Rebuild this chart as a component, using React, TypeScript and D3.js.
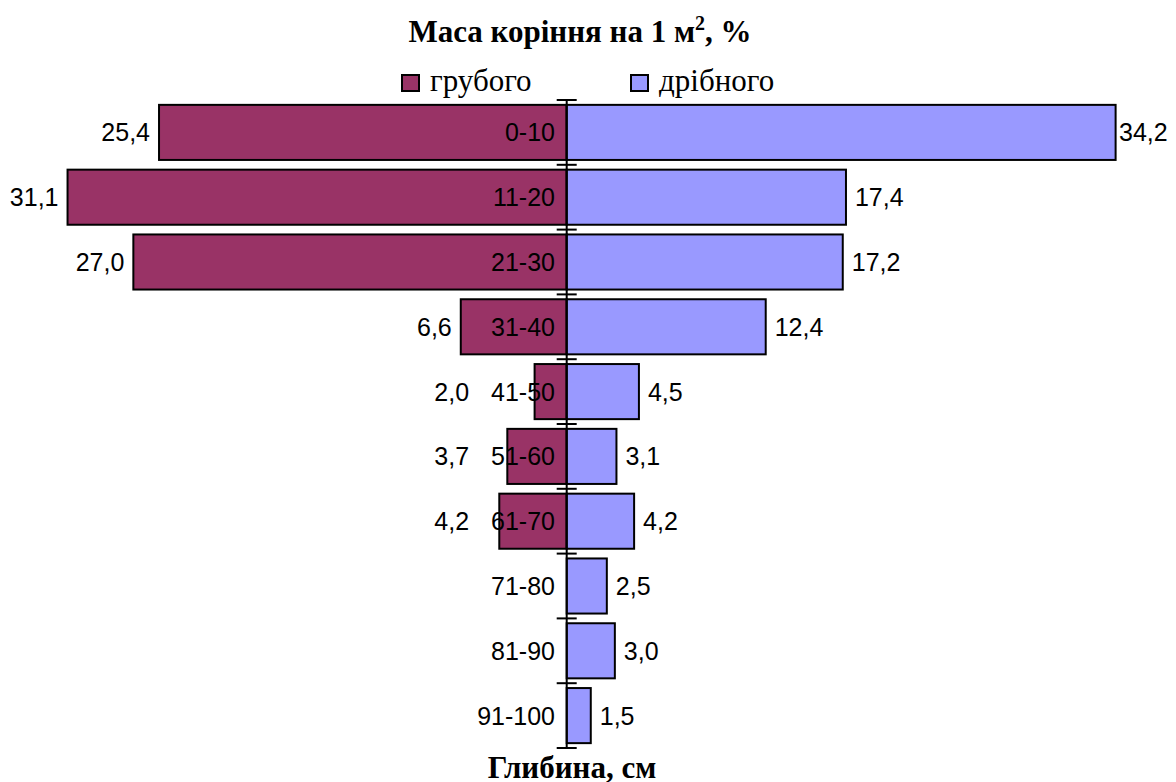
import React from "react";
import * as d3 from "d3";

// Root mass per 1 m² by depth layer, %
const depths = ["0-10", "11-20", "21-30", "31-40", "41-50", "51-60", "61-70", "71-80", "81-90", "91-100"];
const coarse = [25.4, 31.1, 27.0, 6.6, 2.0, 3.7, 4.2, 0, 0, 0];
const fine = [34.2, 17.4, 17.2, 12.4, 4.5, 3.1, 4.2, 2.5, 3.0, 1.5];
const seriesNames = ["грубого", "дрібного"];
const seriesColors = ["#993366", "#9999FF"];

const W = 1176;
const H = 782;
const X0 = 566.7;
const PX_PER_UNIT = 16.05;
const LABEL_FONT = 25;
const CAT_RIGHT = 555;

const fmt = (v: number) => v.toFixed(1).replace(".", ",");

// approximate Arial advance width of a short numeric label
const textWidth = (s: string) =>
  s.split("").reduce((w, ch) => w + (ch === "-" ? 0.333 : ch === "," ? 0.278 : 0.556), 0) * LABEL_FONT;

export default function App() {
  const xLeft = d3.scaleLinear().domain([0, 1]).range([X0, X0 - PX_PER_UNIT]);
  const xRight = d3.scaleLinear().domain([0, 1]).range([X0, X0 + PX_PER_UNIT]);
  const y = d3
    .scaleBand<string>()
    .domain(depths)
    .range([100, 748])
    .paddingInner(0.15)
    .paddingOuter(0.075);

  const step = y.step();
  const top = y.range()[0];
  const boundaries = d3.range(depths.length + 1).map((i) => top + i * step);

  const sans = "Arial, 'Liberation Sans', sans-serif";
  const serif = "'Times New Roman', 'Liberation Serif', serif";

  return (
    <svg
      width={W}
      height={H}
      style={{ position: "absolute", left: 0, top: 0, background: "#fff" }}
    >
      {/* title */}
      <text x={580} y={42} textAnchor="middle" fontFamily={serif} fontWeight="bold" fontSize={31}>
        Маса коріння на 1 м<tspan dy={-12} fontSize={20}>2</tspan>
        <tspan dy={12}>, %</tspan>
      </text>

      {/* legend */}
      {seriesNames.map((name, i) => {
        const lx = i === 0 ? 402 : 631;
        return (
          <g key={name}>
            <rect x={lx} y={75} width={17} height={16} fill={seriesColors[i]} stroke="#000" strokeWidth={2} />
            <text x={lx + 28} y={91} fontFamily={serif} fontSize={31}>
              {name}
            </text>
          </g>
        );
      })}

      {/* bars */}
      {depths.map((d, i) => {
        const by = y(d)!;
        const bh = y.bandwidth();
        return (
          <g key={d}>
            {coarse[i] > 0 && (
              <rect
                x={xLeft(coarse[i])}
                y={by}
                width={X0 - xLeft(coarse[i])}
                height={bh}
                fill={seriesColors[0]}
                stroke="#000"
                strokeWidth={2}
              />
            )}
            <rect
              x={X0}
              y={by}
              width={xRight(fine[i]) - X0}
              height={bh}
              fill={seriesColors[1]}
              stroke="#000"
              strokeWidth={2}
            />
          </g>
        );
      })}

      {/* value labels */}
      {depths.map((d, i) => {
        const cy = y(d)! + y.bandwidth() / 2 + 9;
        const rx = Math.min(xRight(fine[i]) + 9, W - 57);
        // coarse labels step clear of the depth label when the bar is short
        const lx = Math.min(xLeft(coarse[i]) - 9, CAT_RIGHT - textWidth(d) - 22);
        return (
          <g key={"v" + d} fontFamily={sans} fontSize={LABEL_FONT}>
            {coarse[i] > 0 && (
              <text x={lx} y={cy} textAnchor="end">
                {fmt(coarse[i])}
              </text>
            )}
            <text x={rx} y={cy} textAnchor="start">
              {fmt(fine[i])}
            </text>
          </g>
        );
      })}

      {/* category labels */}
      {depths.map((d) => (
        <text
          key={"c" + d}
          x={CAT_RIGHT}
          y={y(d)! + y.bandwidth() / 2 + 9}
          textAnchor="end"
          fontFamily={sans}
          fontSize={LABEL_FONT}
        >
          {d}
        </text>
      ))}

      {/* axis */}
      <line x1={X0} x2={X0} y1={boundaries[0]} y2={boundaries[boundaries.length - 1]} stroke="#000" strokeWidth={2} />
      {boundaries.map((b, i) => (
        <line key={"t" + i} x1={X0 - 10} x2={X0 + 10} y1={b} y2={b} stroke="#000" strokeWidth={2} />
      ))}

      {/* axis title */}
      <text x={572} y={778} textAnchor="middle" fontFamily={serif} fontWeight="bold" fontSize={31}>
        Глибина, см
      </text>
    </svg>
  );
}
